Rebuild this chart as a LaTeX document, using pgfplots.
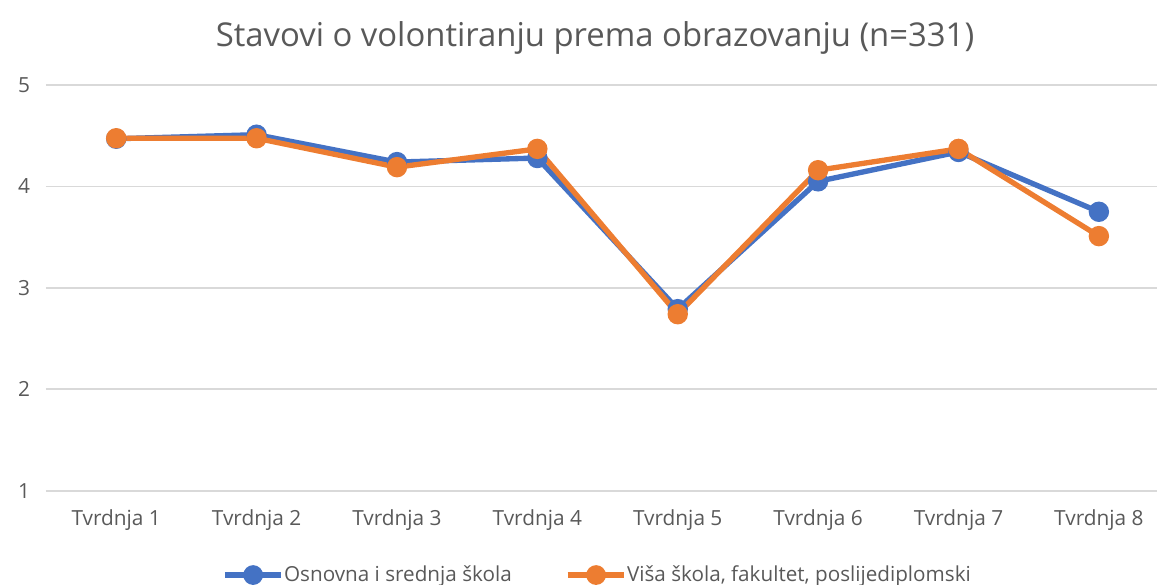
\documentclass[border=0pt]{standalone}
\usepackage{fontspec}
\setmainfont{Open Sans}
\usepackage{pgfplots}
\pgfplotsset{compat=1.18}
\definecolor{cblue}{HTML}{4472C4}
\definecolor{corange}{HTML}{ED7D31}
\definecolor{ctext}{HTML}{595959}
\definecolor{cgrid}{HTML}{D9D9D9}
\begin{document}
\begin{tikzpicture}
\path[use as bounding box] (-27.6pt,-56.6pt) rectangle (666.6pt,294.4pt);
\begin{axis}[
  at={(0pt,0pt)}, anchor=south west,
  scale only axis, width=666.6pt, height=243.4pt,
  xmin=-0.5, xmax=7.414, ymin=1, ymax=5,
  xtick={0,1,2,3,4,5,6,7},
  xticklabels={Tvrdnja 1,Tvrdnja 2,Tvrdnja 3,Tvrdnja 4,Tvrdnja 5,Tvrdnja 6,Tvrdnja 7,Tvrdnja 8},
  ytick={1,2,3,4,5},
  ymajorgrids, grid style={cgrid, line width=1pt},
  axis line style={draw=none},
  major tick length=0pt,
  tick label style={font=\fontsize{12.5pt}{14pt}\selectfont, text=ctext},
  /pgf/number format/assume math mode=true,
  xticklabel style={yshift=-8pt},
  yticklabel style={xshift=-6pt},
  clip=false,
  legend columns=2,
  legend style={at={(0.497,-0.208)}, anchor=center, draw=none, fill=none,
    font=\fontsize{12.4pt}{14pt}\selectfont, text=ctext,
    inner xsep=0pt,
    /tikz/every odd column/.append style={column sep=-2pt},
    /tikz/every even column/.append style={column sep=30pt}},
  legend image code/.code={
    \draw[line width=3.2pt, #1] (-6pt,0pt) -- (28pt,0pt);
    \fill[#1] (11pt,0pt) circle (4.3pt);
  },
]
\addplot[cblue, line width=3.2pt, mark=*, mark size=4.5pt, mark options={fill=cblue, draw=cblue}] coordinates {
 (0,4.47) (1,4.51) (2,4.24) (3,4.28) (4,2.79) (5,4.05) (6,4.34) (7,3.75)};
\addlegendentry{Osnovna i srednja škola}
\addplot[corange, line width=3.2pt, mark=*, mark size=4.5pt, mark options={fill=corange, draw=corange}] coordinates {
 (0,4.475) (1,4.475) (2,4.19) (3,4.37) (4,2.74) (5,4.16) (6,4.37) (7,3.51)};
\addlegendentry{Viša škola, fakultet, poslijediplomski}
\end{axis}
\node[text=ctext, font=\fontsize{19.7pt}{23pt}\selectfont] at (329.4pt,271.6pt) {Stavovi o volontiranju prema obrazovanju (n=331)};
\end{tikzpicture}
\end{document}
